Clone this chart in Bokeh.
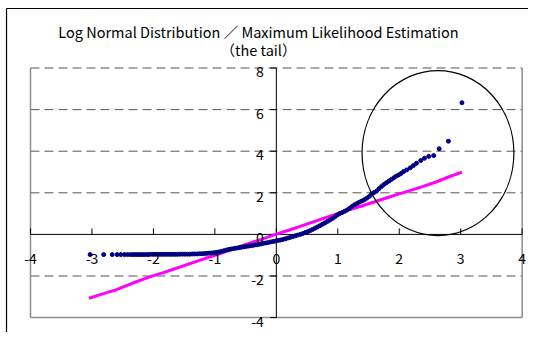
import math
from bokeh.plotting import figure
from bokeh.models import LabelSet, Label, ColumnDataSource, Range1d
from bokeh.core.properties import value
from bokeh.embed import file_html
from bokeh.resources import INLINE

# ---------------- data ----------------
title_line1 = "Log Normal Distribution ／ Maximum Likelihood Estimation"
title_line2 = "（the tail）"

x_ticks = [-4, -3, -2, -1, 0, 1, 2, 3, 4]
x_tick_labels = ["-4", "-3", "-2", "-1", "0", "1", "2", "3", "4"]
y_ticks = [-4, -2, 0, 2, 4, 6, 8]
y_tick_labels = ["-4", "-2", "0", "2", "4", "6", "8"]
grid_values = [-2, 2, 4, 6, 8]

blue_x = [-3.03, -2.81, -2.67, -2.59, -2.53, -2.47, -2.42, -2.37, -2.33, -2.29,
          -2.25, -2.21, -2.17, -2.13, -2.09, -2.05, -2.01, -1.97, -1.93, -1.89,
          -1.85, -1.81, -1.77, -1.73, -1.69, -1.65, -1.61, -1.57, -1.53, -1.49,
          -1.45, -1.41, -1.37, -1.33, -1.29, -1.25, -1.21, -1.17, -1.13, -1.09,
          -1.05, -1.01, -0.97, -0.93, -0.89, -0.85, -0.81, -0.77, -0.73, -0.69,
          -0.65, -0.61, -0.57, -0.53, -0.49, -0.45, -0.41, -0.37, -0.33, -0.29,
          -0.25, -0.21, -0.17, -0.13, -0.09, -0.05, -0.01, 0.03, 0.07, 0.11,
          0.15, 0.19, 0.23, 0.27, 0.31, 0.35, 0.39, 0.43, 0.47, 0.51,
          0.55, 0.59, 0.63, 0.67, 0.71, 0.75, 0.79, 0.83, 0.87, 0.91,
          0.95, 0.99, 1.03, 1.07, 1.11, 1.15, 1.19, 1.23, 1.27, 1.31,
          1.35, 1.39, 1.43, 1.47, 1.51, 1.55, 1.59, 1.63, 1.67, 1.71,
          1.75, 1.79, 1.83, 1.87, 1.91, 1.95, 1.99, 2.03, 2.07, 2.12,
          2.18, 2.23, 2.28, 2.35, 2.41, 2.48, 2.56, 2.65, 2.80, 3.02]
blue_y = [-0.97, -0.97, -0.97, -0.97, -0.97, -0.97, -0.97, -0.97, -0.97, -0.97,
          -0.97, -0.97, -0.97, -0.97, -0.97, -0.96, -0.96, -0.96, -0.96, -0.96,
          -0.96, -0.96, -0.96, -0.96, -0.96, -0.96, -0.96, -0.95, -0.95, -0.95,
          -0.95, -0.95, -0.94, -0.94, -0.94, -0.93, -0.93, -0.92, -0.91, -0.90,
          -0.89, -0.88, -0.86, -0.84, -0.81, -0.78, -0.75, -0.72, -0.70, -0.68,
          -0.66, -0.64, -0.62, -0.60, -0.58, -0.56, -0.54, -0.52, -0.50, -0.48,
          -0.46, -0.43, -0.41, -0.39, -0.36, -0.34, -0.32, -0.29, -0.27, -0.24,
          -0.21, -0.17, -0.14, -0.10, -0.07, -0.03, 0.00, 0.04, 0.09, 0.13,
          0.18, 0.24, 0.30, 0.36, 0.42, 0.49, 0.55, 0.62, 0.69, 0.76,
          0.84, 0.93, 1.00, 1.05, 1.11, 1.17, 1.25, 1.34, 1.42, 1.48,
          1.55, 1.60, 1.66, 1.74, 1.82, 1.94, 2.01, 2.08, 2.20, 2.30,
          2.40, 2.48, 2.56, 2.64, 2.72, 2.80, 2.86, 2.93, 3.02, 3.10,
          3.20, 3.31, 3.42, 3.55, 3.66, 3.75, 3.79, 4.12, 4.48, 6.33]

pink_x = [-3.05, -2.90, -2.76, -2.60, -2.45, -2.30, -2.15, -2.00, -1.85, -1.70,
          -1.55, -1.40, -1.25, -1.10, -0.95, -0.80, -0.60, -0.40, -0.20, 0.00,
          0.20, 0.40, 0.60, 0.80, 1.00, 1.20, 1.40, 1.60, 1.80, 2.00,
          2.20, 2.40, 2.60, 2.80, 3.02]
pink_y = [-3.07, -2.93, -2.80, -2.66, -2.47, -2.30, -2.14, -1.98, -1.85, -1.70,
          -1.55, -1.40, -1.25, -1.10, -0.96, -0.80, -0.59, -0.39, -0.19, 0.01,
          0.20, 0.40, 0.60, 0.80, 1.00, 1.20, 1.38, 1.57, 1.76, 1.95,
          2.13, 2.32, 2.52, 2.76, 2.99]

ellipse_cx = 2.63
ellipse_cy = 3.91
ellipse_w = 2.47
ellipse_h = 7.93

X_MIN, X_MAX = -4, 4
Y_MIN, Y_MAX = -4, 8

FONT = "Noto Sans CJK JP"

# ---------------- figure ----------------
# frame covers the whole canvas; the plot box (-4..4, -4..8) sits inside it
XR = Range1d(-4.488, 4.103)
YR = Range1d(-4.716, 11.245)
p = figure(width=528, height=332, output_backend="svg", toolbar_location=None,
           x_axis_type=None, y_axis_type=None, x_range=XR, y_range=YR,
           min_border_left=0, min_border_right=0, min_border_top=0,
           min_border_bottom=0)
p.outline_line_color = None
p.background_fill_color = "white"
p.border_fill_color = "white"

# outer chart-area border (left and top visible)
BX, BY = -4.39, 10.86
p.segment(x0=[BX, BX], y0=[YR.start, BY], x1=[BX, XR.end], y1=[BY, BY],
          line_color="black", line_width=1.2)

# horizontal dashed grid lines
p.segment(x0=[X_MIN] * len(grid_values), y0=grid_values,
          x1=[X_MAX] * len(grid_values), y1=grid_values,
          line_color="#555555", line_dash="9 5", line_width=1)
# plot-area border (left, right, bottom)
p.segment(x0=[X_MIN, X_MAX, X_MIN], y0=[Y_MIN, Y_MIN, Y_MIN],
          x1=[X_MIN, X_MAX, X_MAX], y1=[Y_MAX, Y_MAX, Y_MIN],
          line_color="#8c8c8c", line_width=1.5)
# axes crossing at the origin
p.segment(x0=[X_MIN, 0], y0=[0, Y_MIN], x1=[X_MAX, 0], y1=[0, Y_MAX],
          line_color="black", line_width=1)

# tick marks
p.ray(x=x_ticks, y=[0] * len(x_ticks), length=6, length_units="screen",
      angle=math.pi / 2, line_color="black", line_width=1)
p.ray(x=[0] * len(y_ticks), y=y_ticks, length=6, length_units="screen",
      angle=math.pi, line_color="black", line_width=1)

# tick labels
xs = ColumnDataSource(dict(x=x_ticks, y=[0] * len(x_ticks), t=x_tick_labels))
p.add_layout(LabelSet(x="x", y="y", text="t", source=xs, text_align="center",
                      text_baseline="middle", y_offset=-24.5,
                      text_font=value(FONT), text_font_size="14px",
                      text_color="black"))
ys = ColumnDataSource(dict(x=[0] * len(y_ticks), y=y_ticks, t=y_tick_labels))
p.add_layout(LabelSet(x="x", y="y", text="t", source=ys, text_align="right",
                      text_baseline="middle", x_offset=-12.5, y_offset=-3.5,
                      text_font=value(FONT), text_font_size="14px",
                      text_color="black"))

# series
p.line(pink_x, pink_y, line_color="#FF00FF", line_width=3)
p.scatter(blue_x, blue_y, size=4, fill_color="#000080", line_color="#000080")

p.ellipse(x=ellipse_cx, y=ellipse_cy, width=ellipse_w, height=ellipse_h,
          fill_color=None, line_color="black", line_width=1.2)

# title (two centred lines)
p.add_layout(Label(x=-0.29, y=9.755, text=title_line1, text_align="center",
                   text_baseline="middle", text_font=FONT,
                   text_font_size="14.5px", text_color="black"))
p.add_layout(Label(x=-0.29, y=8.889, text=title_line2, text_align="center",
                   text_baseline="middle", text_font=FONT,
                   text_font_size="14.5px", text_color="black"))

open("out.html", "w").write(file_html(p, INLINE))
